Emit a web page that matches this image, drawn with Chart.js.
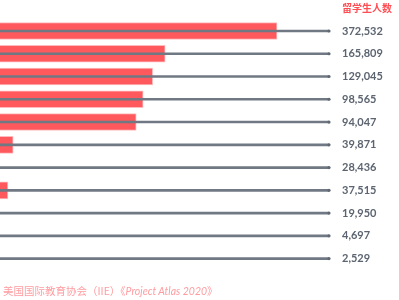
<!DOCTYPE html>
<html>
<head>
<meta charset="utf-8">
<script src="https://cdn.jsdelivr.net/npm/chart.js@4/dist/chart.umd.min.js"></script>
<style>
    body { margin: 0; background: #fff; }
    #wrap { position: relative; width: 399px; height: 300px; }
    #header {
        position: absolute; left: 342px; top: 0px;
        font: bold 10px "Noto Sans CJK SC", sans-serif; color: #ff4d53;
    }
    #source {
        position: absolute; left: 3px; top: 283px;
        font: 10.5px "Noto Sans CJK SC", sans-serif; color: #ff9ca0;
    }
    #source i { font-family: "Lato", sans-serif; }
</style>
</head>
<body>
<div id="wrap">
    <canvas id="chart" width="399" height="300"></canvas>
    <div id="header">留学生人数</div>
    <div id="source">美国国际教育协会（IIE）《<i>Project Atlas 2020</i>》</div>
</div>
<script>
// Row labels (student counts shown on the right)
const studentCounts = ['372,532', '165,809', '129,045', '98,565', '94,047', '39,871', '28,436', '37,515', '19,950', '4,697', '2,529'];
// Visible bar lengths, as % of the guide line length (left part is cropped)
const barValues = [84.2, 50.2, 46.4, 43.5, 41.4, 4.0, 0, 2.4, 0, 0, 0];
// Guide line end for every row
const lineEnd = [100, 100, 100, 100, 100, 100, 100, 100, 100, 100, 100];

const ctx = document.getElementById('chart').getContext('2d');
new Chart(ctx, {
    type: 'bar',
    data: {
        labels: studentCounts,
        datasets: [
            {
                // end dots
                type: 'line',
                indexAxis: 'y',
                data: lineEnd,
                showLine: false,
                pointRadius: 1.6,
                pointBackgroundColor: '#5f6873',
                pointBorderWidth: 0,
                clip: false,
                order: 0
            },
            {
                // thin grey guide lines
                data: lineEnd,
                backgroundColor: '#6f7883',
                barThickness: 2,
                grouped: false,
                order: 1
            },
            {
                data: barValues,
                backgroundColor: '#ff585d',
                borderColor: 'rgba(255,140,145,0.6)',
                borderWidth: 1,
                borderSkipped: 'left',
                barThickness: 17,
                grouped: false,
                order: 2
            }
        ]
    },
    options: {
        indexAxis: 'y',
        responsive: false,
        animation: false,
        layout: { autoPadding: false, padding: { top: 19, bottom: 30, left: 0, right: 0 } },
        plugins: { legend: { display: false }, tooltip: { enabled: false } },
        scales: {
            x: {
                display: false,
                min: 0,
                max: 100
            },
            y: {
                position: 'right',
                border: { display: false },
                grid: { display: false, drawTicks: false },
                ticks: {
                    padding: 13,
                    color: '#5b6470',
                    font: { family: 'Lato', weight: 'bold', size: 11 }
                },
                afterFit(scale) { scale.width = 70; }
            }
        }
    }
});
</script>
</body>
</html>
